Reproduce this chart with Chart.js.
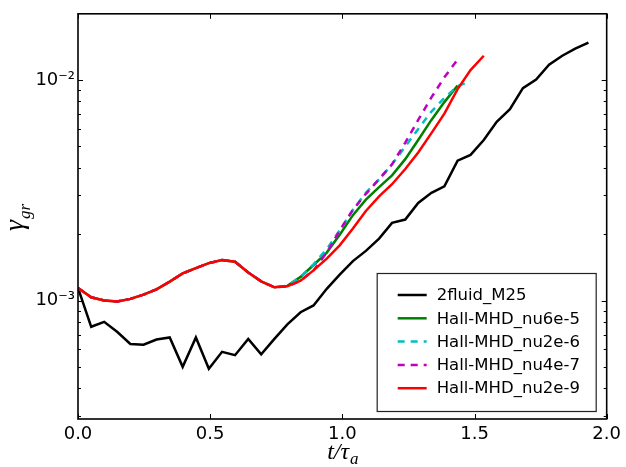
<!DOCTYPE html>
<html>
<head>
<meta charset="utf-8">
<script src="https://cdn.jsdelivr.net/npm/chart.js@4.4.1/dist/chart.umd.min.js"></script>
<style>
  html, body { margin: 0; padding: 0; background: #fff; }
  canvas { display: block; }
</style>
</head>
<body>
<canvas id="chart" width="626" height="467"></canvas>
<script>
// time grid t / tau_a (shared by all runs)
const time = [0.0, 0.05, 0.099, 0.149, 0.198, 0.248, 0.297, 0.347, 0.396, 0.446,
  0.495, 0.545, 0.594, 0.644, 0.693, 0.743, 0.792, 0.842, 0.891, 0.941,
  0.99, 1.04, 1.089, 1.139, 1.188, 1.238, 1.287, 1.337, 1.386, 1.436,
  1.485, 1.535, 1.584, 1.634, 1.683, 1.733, 1.782, 1.832, 1.881, 1.931];

const fluidM25 = [1.14e-3, 7.6e-4, 8.0e-4, 7.2e-4, 6.35e-4, 6.3e-4, 6.65e-4, 6.8e-4, 5.0e-4, 6.8e-4,
  4.9e-4, 5.85e-4, 5.65e-4, 6.7e-4, 5.7e-4, 6.7e-4, 7.8e-4, 8.85e-4, 9.5e-4, 1.13e-3,
  1.31e-3, 1.51e-3, 1.68e-3, 1.91e-3, 2.25e-3, 2.33e-3, 2.77e-3, 3.08e-3, 3.3e-3, 4.31e-3,
  4.58e-3, 5.35e-3, 6.47e-3, 7.38e-3, 9.2e-3, 1.007e-2, 1.175e-2, 1.29e-2, 1.39e-2, 1.48e-2];

const nu6e5 = [1.14e-3, 1.035e-3, 1.0e-3, 0.99e-3, 1.017e-3, 1.064e-3, 1.124e-3, 1.218e-3, 1.327e-3, 1.404e-3,
  1.478e-3, 1.525e-3, 1.5e-3, 1.341e-3, 1.222e-3, 1.148e-3, 1.165e-3, 1.28e-3, 1.45e-3, 1.65e-3,
  1.99e-3, 2.44e-3, 2.87e-3, 3.27e-3, 3.7e-3, 4.38e-3, 5.35e-3, 6.6e-3, 7.95e-3, 9.45e-3];

const nu2e6 = [1.14e-3, 1.035e-3, 1.0e-3, 0.99e-3, 1.017e-3, 1.064e-3, 1.124e-3, 1.218e-3, 1.327e-3, 1.404e-3,
  1.478e-3, 1.525e-3, 1.5e-3, 1.341e-3, 1.222e-3, 1.148e-3, 1.165e-3, 1.28e-3, 1.46e-3, 1.71e-3,
  2.08e-3, 2.58e-3, 3.08e-3, 3.55e-3, 4.15e-3, 5.0e-3, 6.0e-3, 7.2e-3, 8.3e-3, 9.4e-3,
  9.9e-3];

const nu4e7 = [1.14e-3, 1.035e-3, 1.0e-3, 0.99e-3, 1.017e-3, 1.064e-3, 1.124e-3, 1.218e-3, 1.327e-3, 1.404e-3,
  1.478e-3, 1.525e-3, 1.5e-3, 1.341e-3, 1.222e-3, 1.148e-3, 1.16e-3, 1.23e-3, 1.37e-3, 1.65e-3,
  2.08e-3, 2.58e-3, 3.05e-3, 3.55e-3, 4.15e-3, 5.2e-3, 6.6e-3, 8.35e-3, 1.03e-2, 1.24e-2];

const nu2e9 = [1.14e-3, 1.035e-3, 1.0e-3, 0.99e-3, 1.017e-3, 1.064e-3, 1.124e-3, 1.218e-3, 1.327e-3, 1.404e-3,
  1.478e-3, 1.525e-3, 1.5e-3, 1.341e-3, 1.222e-3, 1.148e-3, 1.16e-3, 1.23e-3, 1.37e-3, 1.55e-3,
  1.78e-3, 2.12e-3, 2.55e-3, 2.97e-3, 3.37e-3, 3.95e-3, 4.7e-3, 5.75e-3, 7.05e-3, 9.1e-3,
  1.11e-2, 1.29e-2];

const seriesNames = ['2fluid_M25', 'Hall-MHD_nu6e-5', 'Hall-MHD_nu2e-6', 'Hall-MHD_nu4e-7', 'Hall-MHD_nu2e-9'];

const xTicks = [0, 0.5, 1.0, 1.5, 2.0];
const yMajor = [1e-3, 1e-2];
const yMajorLabels = ['10⁻³', '10⁻²'];
const yMinor = [3e-4, 4e-4, 5e-4, 6e-4, 7e-4, 8e-4, 9e-4,
  2e-3, 3e-3, 4e-3, 5e-3, 6e-3, 7e-3, 8e-3, 9e-3];

function pts(vals) {
  return vals.map((v, i) => ({ x: time[i], y: v }));
}

function line(label, vals, color, dash, order) {
  return {
    label: label,
    data: pts(vals),
    borderColor: color,
    backgroundColor: color,
    borderWidth: 2.5,
    borderDash: dash,
    pointRadius: 0,
    tension: 0,
    fill: false,
    order: order
  };
}

const frame = {
  id: 'frame',
  afterDraw(chart) {
    const ctx = chart.ctx;
    const a = chart.chartArea;
    const x = chart.scales.x, y = chart.scales.y;
    ctx.save();

    // inward ticks on all four sides
    ctx.strokeStyle = '#000';
    ctx.lineWidth = 1;
    ctx.beginPath();
    xTicks.forEach(v => {
      const px = Math.round(x.getPixelForValue(v)) + 0.5;
      ctx.moveTo(px, a.bottom); ctx.lineTo(px, a.bottom - 5);
      ctx.moveTo(px, a.top); ctx.lineTo(px, a.top + 5);
    });
    yMajor.forEach(v => {
      const py = Math.round(y.getPixelForValue(v)) + 0.5;
      ctx.moveTo(a.left, py); ctx.lineTo(a.left + 5, py);
      ctx.moveTo(a.right, py); ctx.lineTo(a.right - 5, py);
    });
    yMinor.forEach(v => {
      const py = Math.round(y.getPixelForValue(v)) + 0.5;
      ctx.moveTo(a.left, py); ctx.lineTo(a.left + 3, py);
      ctx.moveTo(a.right, py); ctx.lineTo(a.right - 3, py);
    });
    ctx.stroke();

    ctx.lineWidth = 1.6;
    ctx.strokeRect(a.left, a.top, a.right - a.left, a.bottom - a.top);

    // legend box, lower right inside the axes
    const lw = 219, lh = 138;
    const lx = a.right - 11 - lw, ly = a.bottom - 8 - lh;
    ctx.fillStyle = '#fff';
    ctx.fillRect(lx, ly, lw, lh);
    ctx.strokeStyle = '#222';
    ctx.lineWidth = 1.2;
    ctx.strokeRect(lx + 0.5, ly + 0.5, lw, lh);
    ctx.font = '16.5px "DejaVu Sans"';
    ctx.textBaseline = 'middle';
    ctx.textAlign = 'left';
    chart.data.datasets.forEach((ds, i) => {
      const cy = ly + 22 + i * 23.3;
      ctx.strokeStyle = ds.borderColor;
      ctx.lineWidth = ds.borderWidth;
      ctx.setLineDash(ds.borderDash || []);
      ctx.beginPath();
      ctx.moveTo(lx + 21, cy);
      ctx.lineTo(lx + 50, cy);
      ctx.stroke();
      ctx.setLineDash([]);
      ctx.fillStyle = '#000';
      ctx.fillText(ds.label, lx + 60, cy + 1);
    });

    // x axis title  t/τ_a
    ctx.fillStyle = '#000';
    ctx.textBaseline = 'alphabetic';
    const big = 'italic 24px "Liberation Serif"';
    const small = 'italic 17px "Liberation Serif"';
    ctx.font = big;
    const wMain = ctx.measureText('t/τ').width;
    ctx.font = small;
    const wSub = ctx.measureText('a').width;
    let sx = (a.left + a.right) / 2 - (wMain + wSub) / 2;
    ctx.font = big;
    ctx.fillText('t/τ', sx, 459);
    ctx.font = small;
    ctx.fillText('a', sx + wMain + 1, 464);

    // y axis title  γ_gr
    ctx.save();
    ctx.translate(23, 0);
    ctx.rotate(-Math.PI / 2);
    ctx.font = 'italic 28px "Liberation Serif"';
    const wg = ctx.measureText('γ').width;
    ctx.font = small;
    const wgr = ctx.measureText('gr').width;
    const start = -218 - (wg + wgr) / 2;
    ctx.font = 'italic 28px "Liberation Serif"';
    ctx.fillText('γ', start, 0);
    ctx.font = small;
    ctx.fillText('gr', start + wg + 1, 7);
    ctx.restore();

    ctx.restore();
  }
};

new Chart(document.getElementById('chart'), {
  type: 'line',
  data: {
    datasets: [
      line(seriesNames[0], fluidM25, '#000000', [], 5),
      line(seriesNames[1], nu6e5, '#008000', [], 4),
      line(seriesNames[2], nu2e6, '#00bfbf', [7, 6], 3),
      line(seriesNames[3], nu4e7, '#bf00bf', [7, 6], 2),
      line(seriesNames[4], nu2e9, '#ff0000', [], 1)
    ]
  },
  options: {
    responsive: false,
    animation: false,
    layout: { padding: { left: 0, right: 18, top: 11, bottom: 0 } },
    plugins: { legend: { display: false }, tooltip: { enabled: false } },
    scales: {
      x: {
        type: 'linear',
        min: 0,
        max: 2,
        afterBuildTicks: s => { s.ticks = xTicks.map(v => ({ value: v })); },
        afterFit: s => { s.height = 48; },
        grid: { display: false, drawTicks: false },
        border: { display: false },
        ticks: {
          padding: 5,
          maxRotation: 0,
          color: '#000',
          font: { family: 'DejaVu Sans', size: 18 },
          callback: v => Number(v).toFixed(1)
        }
      },
      y: {
        type: 'logarithmic',
        min: 2.9e-4,
        max: 2e-2,
        afterBuildTicks: s => { s.ticks = yMajor.map(v => ({ value: v })); },
        afterFit: s => { s.width = 78; },
        grid: { display: false, drawTicks: false },
        border: { display: false },
        ticks: {
          padding: 3,
          color: '#000',
          font: { family: 'DejaVu Sans', size: 18 },
          callback: v => yMajorLabels[yMajor.indexOf(v)] || ''
        }
      }
    }
  },
  plugins: [frame]
});
</script>
</body>
</html>
